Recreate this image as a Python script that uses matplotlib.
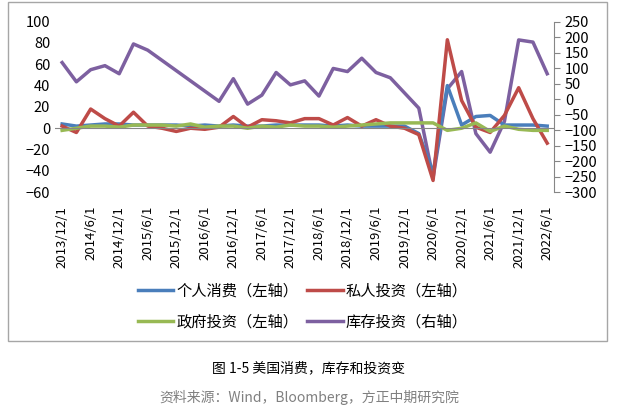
import matplotlib.pyplot as plt
from matplotlib.patches import Rectangle

plt.rcParams['font.family'] = ['Noto Sans CJK SC', 'DejaVu Sans']

dates = ["2013/12/1", "2014/3/1", "2014/6/1", "2014/9/1", "2014/12/1", "2015/3/1", "2015/6/1", "2015/9/1",
         "2015/12/1", "2016/3/1", "2016/6/1", "2016/9/1", "2016/12/1", "2017/3/1", "2017/6/1", "2017/9/1",
         "2017/12/1", "2018/3/1", "2018/6/1", "2018/9/1", "2018/12/1", "2019/3/1", "2019/6/1", "2019/9/1",
         "2019/12/1", "2020/3/1", "2020/6/1", "2020/9/1", "2020/12/1", "2021/3/1", "2021/6/1", "2021/9/1",
         "2021/12/1", "2022/3/1", "2022/6/1"]
consumption = [4, 2, 3, 4, 4, 3, 3, 3, 3, 2, 3, 2, 3, 2, 2, 3, 3, 3, 3, 2, 3, 2, 2, 2,
               2, -5, -42, 40, 3, 11, 12, 3, 3, 3, 2]
private_inv = [2, -4, 18, 9, 2, 15, 2, 0, -3, 0, -1, 1, 11, 1, 8, 7, 5, 9, 9, 3, 10, 2, 8, 2,
               0, -6, -49, 83, 26, 1, -4, 12, 38, 9, -14]
gov_inv = [-2, 0, 2, 2, 1, 3, 3, 3, 2, 4, 1, 2, 2, 0, 2, 1, 3, 2, 2, 1, 2, 3, 4, 5,
           5, 5, 5, -2, 0, 5, -3, 2, -1, -2, -2]
inventory = [118, 56, 95, 108, 82, 178, 158, 125, 92, 59, 26, -7, 66, -16, 13, 86, 46, 59,
             10, 99, 89, 132, 86, 69, 20, -29, -253, 33, 89, -111, -171, -72, 191, 184, 82]
x = list(range(len(dates)))

fig = plt.figure(figsize=(6.18, 4.16), dpi=100)
fig.patches.append(Rectangle((8 / 618, 1 - 341 / 416), 599 / 618, 339 / 416, transform=fig.transFigure,
                             fill=False, edgecolor='#a6a6a6', linewidth=1))
ax = fig.add_axes([0.089, 0.538, 0.808, 0.41])
ax2 = ax.twinx()

l_con, = ax.plot(x, consumption, color='#4a7ebb', lw=2.5, label='个人消费（左轴）')
l_pri, = ax.plot(x, private_inv, color='#be4b48', lw=2.5, label='私人投资（左轴）')
l_gov, = ax.plot(x, gov_inv, color='#98b954', lw=2.5, label='政府投资（左轴）')
l_inv, = ax2.plot(x, inventory, color='#7d60a0', lw=2.5, label='库存投资（右轴）')
ax.set_zorder(ax2.get_zorder() + 1)
ax.patch.set_visible(False)
ax.axhline(0, color='#868686', lw=0.8)

ax.set_xlim(-0.5, 34.5)
ax.set_ylim(-60, 100)
ax.set_yticks(range(-60, 101, 20))
ax2.set_ylim(-300, 250)
ax2.set_yticks(range(-300, 251, 50))
ax.set_xticks(x[::2])
ax.set_xticklabels(dates[::2], rotation=90, fontsize=9.5, va='top')
ax.tick_params(axis='x', length=0, pad=10)
ax.tick_params(axis='y', length=0, labelsize=10.5)
ax2.tick_params(axis='y', labelsize=10.5, length=4, color='#868686')
for s in ['top', 'left', 'bottom', 'right']:
    ax.spines[s].set_visible(False)
    ax2.spines[s].set_visible(False)
ax2.spines['right'].set_visible(True)
ax2.spines['right'].set_color('#868686')

handles = [l_con, l_gov, l_pri, l_inv]
fig.legend(handles, [h.get_label() for h in handles], ncol=2, loc='center', bbox_to_anchor=(0.49, 0.264),
           frameon=False, fontsize=11, handlelength=2.3, columnspacing=0.6, handletextpad=0.2,
           labelspacing=0.9)

fig.text(0.5, 1 - 368 / 416, '图 1-5 美国消费，库存和投资变', ha='center', va='center', fontsize=10)
fig.text(0.5, 1 - 397 / 416, '资料来源：Wind，Bloomberg，方正中期研究院', ha='center', va='center',
         fontsize=10, color='#808080')

fig.savefig('out.png', dpi=100)
